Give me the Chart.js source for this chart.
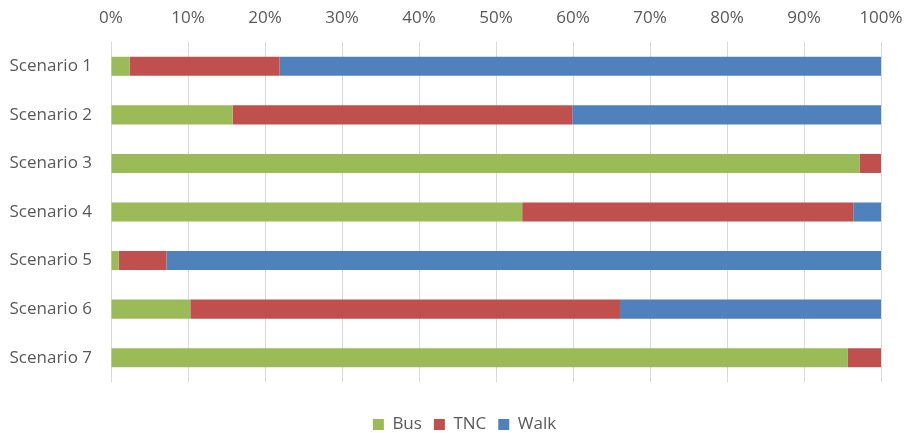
<!DOCTYPE html>
<html>
<head>
<meta charset="utf-8">
<script src="https://cdn.jsdelivr.net/npm/chart.js@4/dist/chart.umd.min.js"></script>
<style>
html,body{margin:0;padding:0;background:#fff;}
#wrap{width:906px;height:433px;position:relative;}
</style>
</head>
<body>
<div id="wrap"><canvas id="c" width="906" height="433"></canvas></div>
<script>
const categories = ["Scenario 1","Scenario 2","Scenario 3","Scenario 4","Scenario 5","Scenario 6","Scenario 7"];
const busValues  = [2.4, 15.8, 97.2, 53.4, 1.0, 10.3, 95.7];
const tncValues  = [19.5, 44.1, 2.8, 43.0, 6.2, 55.8, 4.3];
const walkValues = [78.1, 40.1, 0, 3.6, 92.8, 33.9, 0];
const xTickValues = [0,10,20,30,40,50,60,70,80,90,100];

const font = "'Open Sans', 'Noto Sans', sans-serif";
const textColor = "#595959";

const legendHeightPlugin = {
  id: 'legendHeight',
  beforeLayout(chart) {
    const lg = chart.legend;
    if (lg && !lg._patched) {
      const orig = lg.fit;
      lg.fit = function() { orig.call(this); this.height = 51; };
      lg._patched = true;
    }
  },
  afterLayout(chart) {
    const lg = chart.legend;
    if (lg) { lg.left += 24; lg.right += 24; }
  }
};

new Chart(document.getElementById('c'), {
  type: 'bar',
  data: {
    labels: categories,
    datasets: [
      {label:'Bus', data: busValues, backgroundColor:'#9BBB59', borderWidth:0},
      {label:'TNC', data: tncValues, backgroundColor:'#C0504D', borderWidth:0},
      {label:'Walk', data: walkValues, backgroundColor:'#4F81BD', borderWidth:0}
    ]
  },
  plugins: [legendHeightPlugin],
  options: {
    indexAxis: 'y',
    responsive: false,
    animation: false,
    layout: {padding: {left: 0, right: 25, top: 0, bottom: 0}},
    datasets: {bar: {categoryPercentage: 0.8, barPercentage: 0.49}},
    scales: {
      x: {
        position: 'top',
        stacked: true,
        min: 0, max: 100,
        afterBuildTicks: (s) => { s.ticks = xTickValues.map(v => ({value: v})); },
        afterFit: (s) => { s.height = 42; s.paddingLeft = 0; s.paddingRight = 0; },
        grid: {color:'#d9d9d9', lineWidth:1, drawTicks:false},
        border: {display:false},
        ticks: {
          color: textColor, font: {family: font, size: 17}, padding: 14,
          callback: (v) => v + '%', maxRotation: 0
        }
      },
      y: {
        stacked: true,
        afterFit: (s) => { s.width = 111; },
        grid: {display:false, drawTicks:false},
        border: {display:false},
        ticks: {color: textColor, font: {family: font, size: 17}, padding: 19}
      }
    },
    plugins: {
      legend: {
        position: 'bottom',
        title: {display: true, text: '', font: {size: 10}, padding: {top: 10, bottom: 0}},
        labels: {
          color: textColor, font: {family: font, size: 17},
          boxWidth: 11, boxHeight: 11, padding: 12
        }
      },
      tooltip: {enabled:false}
    }
  }
});
</script>
</body>
</html>
